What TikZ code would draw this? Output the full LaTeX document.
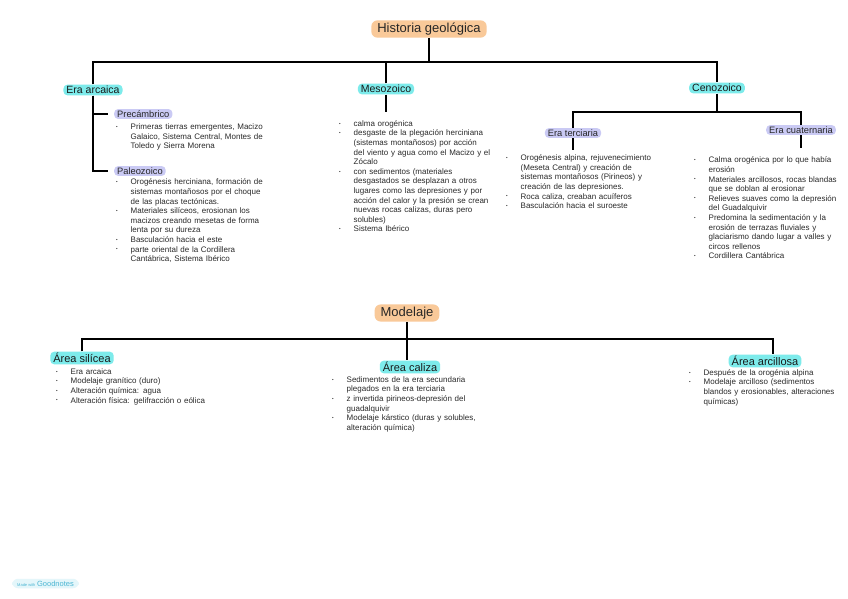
\documentclass[tikz,border=0pt]{standalone}
\usepackage{fontspec}
\setmainfont{Liberation Sans}
\usepackage{xcolor}
\usetikzlibrary{positioning}

\definecolor{naranja}{HTML}{F9C999}
\definecolor{cian}{HTML}{7DEBEB}
\definecolor{lila}{HTML}{CACAF4}
\definecolor{texto}{HTML}{2A2A2A}
\definecolor{gnfondo}{HTML}{E4F6FA}
\definecolor{gntexto}{HTML}{4DB6D3}

\newcommand{\punto}{\raisebox{1.3pt}{\fontsize{4.5}{4.5}\selectfont\textbullet}}
\newenvironment{vinetas}{%
  \begin{list}{\punto}{%
    \setlength{\leftmargin}{14.5pt}\setlength{\labelwidth}{14.5pt}%
    \setlength{\labelsep}{0pt}\setlength{\itemsep}{0pt}%
    \setlength{\parsep}{0pt}\setlength{\topsep}{0pt}%
    \setlength{\partopsep}{0pt}%
    \renewcommand{\makelabel}[1]{##1\hfil}}}%
  {\end{list}}

\begin{document}
\begin{tikzpicture}[
  x=1pt, y=-1pt,
  titulo/.style={fill=naranja, rounded corners=6pt, text=black!85,
    font=\fontsize{13}{13}\selectfont, inner xsep=6pt, inner ysep=2.5pt},
  era/.style={fill=cian, rounded corners=4pt, text=black!90,
    font=\fontsize{10.5}{10.5}\selectfont, inner xsep=3pt, inner ysep=1.5pt},
  area/.style={era, font=\fontsize{11}{11}\selectfont},
  sub/.style={fill=lila, rounded corners=4pt, text=black!85,
    font=\fontsize{9.3}{9.3}\selectfont, inner xsep=3pt, inner ysep=1.5pt},
  lista/.style={anchor=north west, inner sep=0pt, text width=#1,
    align=left, text=texto, font=\fontsize{8}{9.6}\selectfont},
  lista/.default=175pt,
  rama/.style={line width=1.8pt, black},
]
\useasboundingbox[fill=white] (0,0) rectangle (848,599);

% --- Historia geologica
\node[titulo] (historia) at (429,29) {Historia geológica};
\node[era] (arcaica) at (93,90) {Era arcaica};
\node[era] (mesozoico) at (386,89) {Mesozoico};
\node[era] (cenozoico) at (717,88) {Cenozoico};
\coordinate (busH) at (429,62);
\draw[rama] (historia) -- (busH);
\draw[rama] (arcaica) |- (busH) -| (cenozoico);
\draw[rama] (mesozoico) -- (mesozoico |- busH);

% Era arcaica: dos ramas
\node[sub, anchor=west] (precambrico) at (114,114) {Precámbrico};
\node[sub, anchor=west] (paleozoico) at (114,171) {Paleozoico};
\draw[rama, shorten >=6pt] (arcaica) |- (paleozoico);
\draw[rama, shorten >=6pt] (arcaica) |- (precambrico);
\node[lista] (precambricoLista) at (116,120) {\begin{vinetas}
  \item Primeras tierras emergentes, Macizo\newline Galaico, Sistema Central, Montes de\newline Toledo y Sierra Morena
\end{vinetas}};
\node[lista] (paleozoicoLista) at (116,175) {\begin{vinetas}
  \item Orogénesis herciniana, formación de\newline sistemas montañosos por el choque\newline de las placas tectónicas.
  \item Materiales silíceos, erosionan los\newline macizos creando mesetas de forma\newline lenta por su dureza
  \item Basculación hacia el este
  \item parte oriental de la Cordillera\newline Cantábrica, Sistema Ibérico
\end{vinetas}};

% Mesozoico
\node[lista] (mesozoicoLista) at (339,116.5) {\begin{vinetas}
  \item calma orogénica
  \item desgaste de la plegación herciniana\newline (sistemas montañosos) por acción\newline del viento y agua como el Macizo y el\newline Zócalo
  \item con sedimentos (materiales\newline desgastados se desplazan a otros\newline lugares como las depresiones y por\newline acción del calor y la presión se crean\newline nuevas rocas calizas, duras pero\newline solubles)
  \item Sistema Ibérico
\end{vinetas}};
\draw[rama, shorten >=4pt] (mesozoico) -- (mesozoico |- mesozoicoLista.north);

% Cenozoico: terciaria y cuaternaria
\node[sub] (terciaria) at (573,133) {Era terciaria};
\node[sub] (cuaternaria) at (801,130) {Era cuaternaria};
\coordinate (busC) at (717,112);
\draw[rama] (cenozoico) -- (busC);
\draw[rama] (terciaria) |- (busC) -| (cuaternaria);
\node[lista] (terciariaLista) at (506,151) {\begin{vinetas}
  \item Orogénesis alpina, rejuvenecimiento\newline (Meseta Central) y creación de\newline sistemas montañosos (Pirineos) y\newline creación de las depresiones.
  \item Roca caliza, creaban acuíferos
  \item Basculación hacia el suroeste
\end{vinetas}};
\node[lista=150pt] (cuaternariaLista) at (694,153) {\begin{vinetas}
  \item Calma orogénica por lo que había\newline erosión
  \item Materiales arcillosos, rocas blandas\newline que se doblan al erosionar
  \item Relieves suaves como la depresión\newline del Guadalquivir
  \item Predomina la sedimentación y la\newline erosión de terrazas fluviales y\newline glaciarismo dando lugar a valles y\newline circos rellenos
  \item Cordillera Cantábrica
\end{vinetas}};
\draw[rama, shorten >=1pt] (terciaria) -- (terciaria |- terciariaLista.north);
\draw[rama, shorten >=5pt] (cuaternaria) -- (cuaternaria |- cuaternariaLista.north);

% --- Modelaje
\node[titulo] (modelaje) at (407,313) {Modelaje};
\node[area] (silicea) at (82,358) {Área silícea};
\node[area] (caliza) at (410,367) {Área caliza};
\node[area] (arcillosa) at (765,361) {Área arcillosa};
\coordinate (busM) at (407,339);
\draw[rama] (modelaje) -- (modelaje |- caliza.north);
\draw[rama] (silicea) |- (busM) -| ([xshift=8pt]arcillosa.north);
\node[lista] (siliceaLista) at (56,364.5) {\begin{vinetas}
  \item Era arcaica
  \item Modelaje granítico (duro)
  \item Alteración química: agua
  \item Alteración física: gelifracción o eólica
\end{vinetas}};
\node[lista] (calizaLista) at (332,372.5) {\begin{vinetas}
  \item Sedimentos de la era secundaria\newline plegados en la era terciaria
  \item z invertida pirineos-depresión del\newline guadalquivir
  \item Modelaje kárstico (duras y solubles,\newline alteración química)
\end{vinetas}};
\node[lista=160pt] (arcillosaLista) at (689,365.5) {\begin{vinetas}
  \item Después de la orogénia alpina
  \item Modelaje arcilloso (sedimentos\newline blandos y erosionables, alteraciones\newline químicas)
\end{vinetas}};

% sello
\node[fill=gnfondo, rounded corners=6pt, inner xsep=5pt, inner ysep=2pt, text=gntexto]
  (goodnotes) at (45.5,583.5)
  {{\fontsize{4}{4}\selectfont Made with}\,{\fontsize{7.5}{7.5}\selectfont Goodnotes}};
\end{tikzpicture}
\end{document}
